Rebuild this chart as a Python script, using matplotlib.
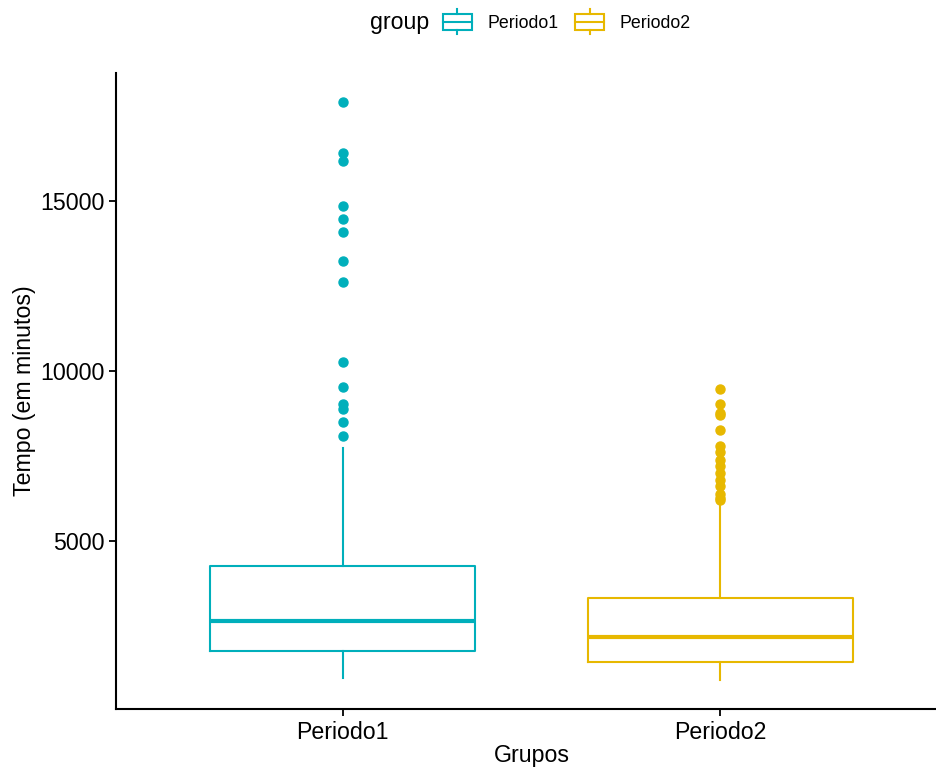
import matplotlib
matplotlib.use("Agg")
import matplotlib.pyplot as plt
from matplotlib.legend_handler import HandlerBase
from matplotlib.patches import Rectangle
from matplotlib.lines import Line2D

plt.rcParams['font.family'] = ['Liberation Sans', 'DejaVu Sans']

# data
groups = ['Periodo1', 'Periodo2']
colors = ['#00AFBB', '#E7B800']
medians = [2630, 2177]
q1 = [1764, 1440]
q3 = [4272, 3310]
whisk_lo = [950, 900]
whisk_hi = [7744, 6120]
outliers_p1 = [17930, 16437, 16181, 14853, 14479, 14107, 13231, 12611,
               10272, 9523, 9042, 8885, 8490, 8098]
outliers_p2 = [9464, 9021, 8780, 8720, 8275, 7794, 7617, 7369, 7213, 6997,
               6800, 6602, 6387, 6260, 6190]
outliers = [outliers_p1, outliers_p2]


class BoxHandler(HandlerBase):
    def create_artists(self, legend, orig_handle, xdescent, ydescent,
                       width, height, fontsize, trans):
        c = orig_handle.get_color()
        x0 = -xdescent
        y0 = -ydescent
        rect = Rectangle((x0, y0), width, height,
                         fill=False, edgecolor=c, lw=1.5, transform=trans)
        mid = Line2D([x0, x0 + width], [y0 + height * 0.5] * 2, color=c, lw=1.5,
                     transform=trans)
        cx = x0 + width / 2
        top = Line2D([cx, cx], [y0 + height, y0 + height * 1.3],
                     color=c, lw=1.5, transform=trans)
        bot = Line2D([cx, cx], [y0 - height * 0.3, y0],
                     color=c, lw=1.5, transform=trans)
        return [rect, mid, top, bot]


fig = plt.figure(figsize=(9.36, 7.69), dpi=100)
ax = fig.add_axes([116 / 936, 1 - 709 / 769, (947 - 116) / 936, (709 - 73) / 769])

stats = []
for i, g in enumerate(groups):
    stats.append(dict(label=g, med=medians[i], q1=q1[i], q3=q3[i],
                      whislo=whisk_lo[i], whishi=whisk_hi[i], fliers=outliers[i]))

for i, s in enumerate(stats):
    c = colors[i]
    ax.bxp([s], positions=[i + 1], widths=0.7, showcaps=False,
           boxprops=dict(color=c, lw=1.5),
           whiskerprops=dict(color=c, lw=1.5),
           medianprops=dict(color=c, lw=3, solid_capstyle='butt'),
           flierprops=dict(marker='o', markerfacecolor=c, markeredgecolor=c,
                           markersize=6.5))

ax.set_xlim(0.4, 2.6)
ax.set_ylim(48, 18781)
ax.set_xticks([1, 2])
ax.set_xticklabels(groups)
ax.set_yticks([5000, 10000, 15000])
ax.tick_params(labelsize=16.7, width=1.3, length=5, colors='black')
for side in ['top', 'right']:
    ax.spines[side].set_visible(False)
for side in ['left', 'bottom']:
    ax.spines[side].set_linewidth(1.5)
ax.set_xlabel('Grupos', fontsize=16.7, labelpad=0)
ax.set_ylabel('Tempo (em minutos)', fontsize=16.7, labelpad=3)

handles = [Line2D([], [], color=c) for c in colors]
fig.text(370 / 936, 1 - 22 / 769, 'group', fontsize=16.7, va='center', ha='left')
fig.legend(handles, groups, handler_map={Line2D: BoxHandler()}, ncol=2,
           loc='center left', bbox_to_anchor=(443 / 936, 1 - 23 / 769),
           frameon=False, fontsize=12.8, handlelength=1.63, handleheight=0.96,
           handletextpad=0.85, columnspacing=0.95, borderpad=0, borderaxespad=0)

fig.savefig('out.png', dpi=100)
